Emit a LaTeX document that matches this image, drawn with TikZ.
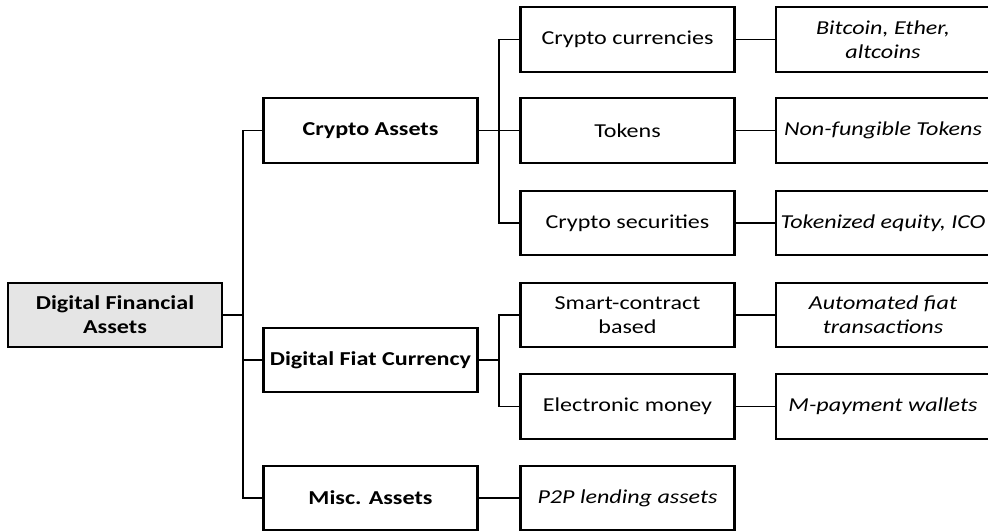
\documentclass[tikz,border=0pt]{standalone}
\usepackage{fontspec}
\setmainfont{Carlito}[FakeStretch=1.22]
\begin{document}
\begin{tikzpicture}[x=0.75pt,y=-0.75pt,
  box/.style={draw=black,line width=1.6pt,fill=white,minimum width=160.5pt,minimum height=48.5pt,inner sep=0pt,align=center,font=\fontsize{14.8pt}{18pt}\selectfont},
  rootbox/.style={box,fill=black!10,font=\fontsize{14.8pt}{18pt}\selectfont\bfseries},
  boldbox/.style={box,font=\fontsize{14.8pt}{18pt}\selectfont\bfseries},
  itbox/.style={box,font=\fontsize{14.8pt}{18pt}\selectfont\itshape},
  conn/.style={draw=black,line width=1.4pt}]
\useasboundingbox (0,0) rectangle (988,531);
\clip (0,0) rectangle (988,531);
% level 1
\node[rootbox] (root) at (115,315) {Digital Financial\\Assets};
% level 2
\node[boldbox] (ca) at (370.5,130.5) {Crypto Assets};
\node[boldbox] (dfc) at (370.5,360) {Digital Fiat Currency};
\node[boldbox] (misc) at (370.5,498) {Misc. Assets};
% level 3
\node[box] (cc) at (627.5,39.5) {Crypto currencies};
\node[box] (tok) at (627.5,130.5) {Tokens};
\node[box] (cs) at (627.5,223) {Crypto securities};
\node[box] (sc) at (627.5,315) {Smart-contract\\based};
\node[box] (em) at (627.5,406.5) {Electronic money};
\node[itbox] (p2p) at (627.5,498) {P2P lending assets};
% level 4
\node[itbox] (btc) at (883,39.5) {Bitcoin, Ether,\\altcoins};
\node[itbox] (nft) at (883,130.5) {Non-fungible Tokens};
\node[itbox] (te) at (883,223) {Tokenized equity, ICO};
\node[itbox] (af) at (883,315) {Automated fiat\\transactions};
\node[itbox] (mp) at (883,406.5) {M-payment wallets};
% connectors level 1 -> 2
\coordinate (t0) at (243,315);
\draw[conn] (root.east) -- (t0);
\draw[conn] (ca.west) -| (t0) |- (misc.west);
\draw[conn] (t0) |- (dfc.west);
% crypto assets -> level 3
\coordinate (t1) at (499,130.5);
\draw[conn] (ca.east) -- (t1);
\draw[conn] (cc.west) -| (t1) |- (cs.west);
\draw[conn] (t1) -- (tok.west);
% digital fiat -> level 3
\coordinate (t2) at (499,360);
\draw[conn] (dfc.east) -- (t2);
\draw[conn] (sc.west) -| (t2) |- (em.west);
% misc
\draw[conn] (misc.east) -- (p2p.west);
% level 3 -> 4
\draw[conn] (cc.east) -- (btc.west);
\draw[conn] (tok.east) -- (nft.west);
\draw[conn] (cs.east) -- (te.west);
\draw[conn] (sc.east) -- (af.west);
\draw[conn] (em.east) -- (mp.west);
\end{tikzpicture}
\end{document}
